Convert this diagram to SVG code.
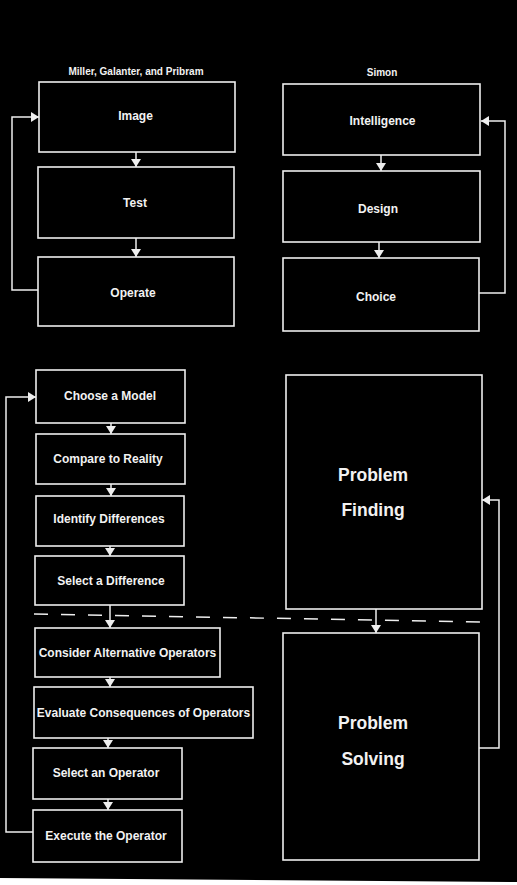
<svg xmlns="http://www.w3.org/2000/svg" width="517" height="885" viewBox="0 0 517 885">
<style>
.box{fill:#000;stroke:#eee;stroke-width:1.6}
.ln{fill:none;stroke:#eee;stroke-width:1.5}
.t{font-family:"Liberation Sans",Arial,sans-serif;font-weight:bold;fill:#f2f2f2;text-anchor:middle;font-size:12px}
.h{font-size:10px}
.big{font-size:17.5px}
</style>
<defs>
<marker id="ah" viewBox="0 0 8 10" refX="8" refY="5" markerWidth="8" markerHeight="10" orient="auto" markerUnits="userSpaceOnUse">
<path d="M0,0 L8,5 L0,10 z" fill="#eee"/>
</marker>
</defs>
<rect width="517" height="885" fill="#000"/>
<polygon points="0,878 517,882 517,885 0,885" fill="#fff"/>

<text class="t h" x="136" y="75">Miller, Galanter, and Pribram</text>
<text class="t h" x="382" y="76">Simon</text>

<g id="connectors">
<line class="ln" x1="136" y1="152" x2="136" y2="167" marker-end="url(#ah)"/>
<line class="ln" x1="136" y1="238" x2="136" y2="257" marker-end="url(#ah)"/>
<polyline class="ln" points="38,290 12,290 12,117 39,117" marker-end="url(#ah)"/>
<line class="ln" x1="381" y1="155" x2="381" y2="171" marker-end="url(#ah)"/>
<line class="ln" x1="379" y1="242" x2="379" y2="258" marker-end="url(#ah)"/>
<polyline class="ln" points="479,293 505,293 505,121 481,121" marker-end="url(#ah)"/>
<line class="ln" x1="111" y1="423" x2="111" y2="434" marker-end="url(#ah)"/>
<line class="ln" x1="111" y1="484" x2="111" y2="496" marker-end="url(#ah)"/>
<line class="ln" x1="110" y1="546" x2="110" y2="556" marker-end="url(#ah)"/>
<line class="ln" x1="110" y1="605" x2="110" y2="628" marker-end="url(#ah)"/>
<line class="ln" x1="110" y1="677" x2="110" y2="687" marker-end="url(#ah)"/>
<line class="ln" x1="108" y1="738" x2="108" y2="748" marker-end="url(#ah)"/>
<line class="ln" x1="108" y1="799" x2="108" y2="810" marker-end="url(#ah)"/>
<polyline class="ln" points="33,832 6,832 6,397 36,397" marker-end="url(#ah)"/>
<line class="ln" x1="376" y1="609" x2="376" y2="633" marker-end="url(#ah)"/>
<polyline class="ln" points="479,748 499,748 499,500 482,500" marker-end="url(#ah)"/>
<line class="ln" x1="34" y1="614" x2="480" y2="622" stroke-dasharray="14 13"/>
</g>

<g id="image"><rect class="box" x="39" y="82" width="196" height="70"/><text class="t" x="135.5" y="120">Image</text></g>
<g id="test"><rect class="box" x="38" y="167" width="196" height="71"/><text class="t" x="135" y="207">Test</text></g>
<g id="operate"><rect class="box" x="38" y="257" width="196" height="69"/><text class="t" x="133" y="297">Operate</text></g>

<g id="intelligence"><rect class="box" x="283" y="84" width="197" height="71"/><text class="t" x="382.5" y="125">Intelligence</text></g>
<g id="design"><rect class="box" x="283" y="171" width="197" height="71"/><text class="t" x="378" y="213">Design</text></g>
<g id="choice"><rect class="box" x="283" y="258" width="196" height="73"/><text class="t" x="376" y="301">Choice</text></g>

<g id="choose"><rect class="box" x="36" y="370" width="149" height="53"/><text class="t" x="110" y="400">Choose a Model</text></g>
<g id="compare"><rect class="box" x="36" y="434" width="149" height="50"/><text class="t" x="108" y="463">Compare to Reality</text></g>
<g id="identify"><rect class="box" x="36" y="496" width="148" height="50"/><text class="t" x="109" y="523">Identify Differences</text></g>
<g id="selectdiff"><rect class="box" x="35" y="556" width="149" height="49"/><text class="t" x="111" y="585">Select a Difference</text></g>
<g id="consider"><rect class="box" x="35" y="628" width="185" height="49"/><text class="t" x="127.5" y="657">Consider Alternative Operators</text></g>
<g id="evaluate"><rect class="box" x="34" y="687" width="219" height="51"/><text class="t" x="143.5" y="717">Evaluate Consequences of Operators</text></g>
<g id="selectop"><rect class="box" x="33" y="748" width="149" height="51"/><text class="t" x="106" y="777">Select an Operator</text></g>
<g id="execute"><rect class="box" x="33" y="810" width="149" height="52"/><text class="t" x="106" y="840">Execute the Operator</text></g>

<g id="finding"><rect class="box" x="286" y="375" width="196" height="234"/><text class="t big" x="373" y="481">Problem</text><text class="t big" x="373" y="516">Finding</text></g>
<g id="solving"><rect class="box" x="283" y="633" width="196" height="227"/><text class="t big" x="373" y="729">Problem</text><text class="t big" x="373" y="765">Solving</text></g>
</svg>
